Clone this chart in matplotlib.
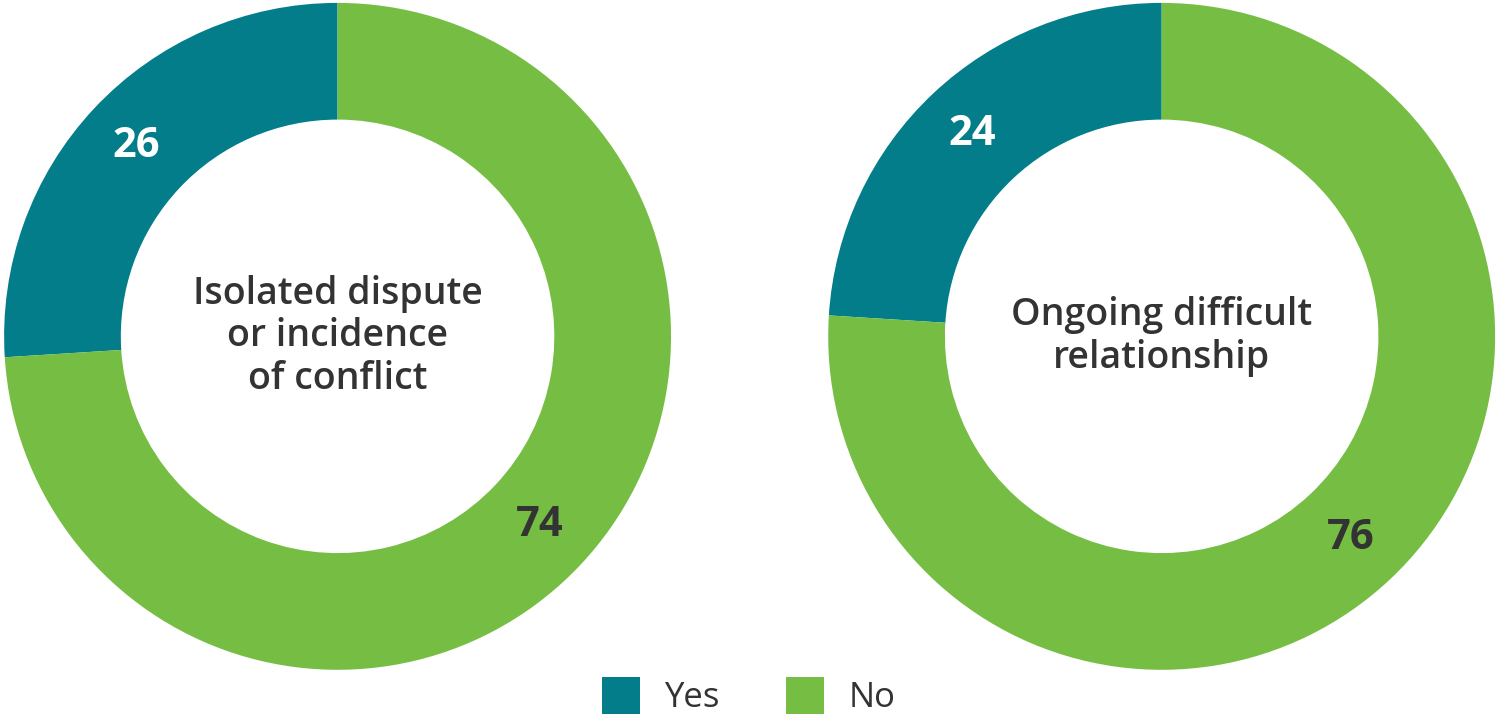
import matplotlib
matplotlib.use("Agg")
import matplotlib.pyplot as plt

plt.rcParams['font.family'] = ['Open Sans', 'DejaVu Sans']

# survey shares (percent)
categories = ['Yes', 'No']
titles = ['Isolated dispute\nor incidence\nof conflict', 'Ongoing difficult\nrelationship']
dispute_values = [26, 74]
relationship_values = [24, 76]
colors = ['#037D8A', '#75BE43']

fig = plt.figure(figsize=(14.97, 7.21), dpi=100)
ax1 = fig.add_axes([0.002, 0.071, 0.447, 0.925])
ax2 = fig.add_axes([0.552, 0.071, 0.448, 0.925])

for ax, vals, title in [(ax1, dispute_values, titles[0]), (ax2, relationship_values, titles[1])]:
    wedges, texts = ax.pie(vals, labels=[str(v) for v in vals], colors=colors,
                           startangle=90, counterclock=True, radius=1,
                           labeldistance=0.83,
                           wedgeprops=dict(width=0.35, linewidth=0))
    for t, c in zip(texts, ['white', '#333333']):
        t.set_color(c)
        t.set_fontsize(30)
        t.set_fontweight('bold')
        t.set_ha('center')
        t.set_va('center')
    ax.text(0, 0, title, ha='center', va='center', fontsize=27, fontweight='semibold',
            color='#333333', linespacing=1.15)
    ax.set_xlim(-1, 1)
    ax.set_ylim(-1, 1)
    ax.set_aspect('equal')
    ax.axis('off')

fig.legend(wedges, categories, loc='lower center', bbox_to_anchor=(0.5, -0.035),
           ncol=2, frameon=False, fontsize=25, handlelength=1.1, handleheight=1.25,
           columnspacing=1.9, handletextpad=0.7, labelcolor='#333333')

fig.savefig('out.png', dpi=100)
